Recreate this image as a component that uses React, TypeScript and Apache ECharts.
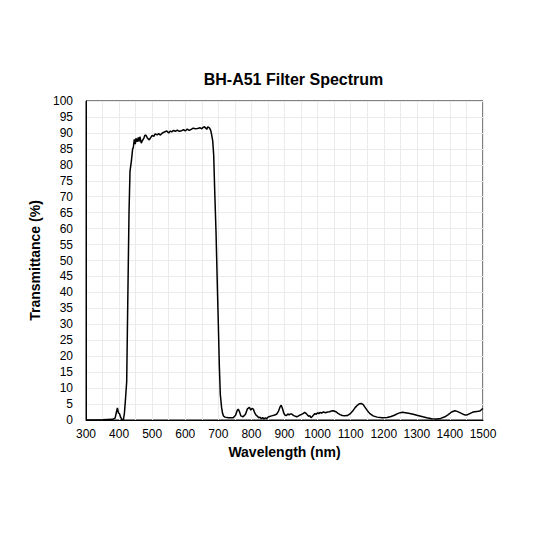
import React, {useRef, useEffect} from 'react';
import * as echarts from 'echarts';

const chartTitle = 'BH-A51 Filter Spectrum';
const xName = 'Wavelength (nm)';
const yName = 'Transmittance (%)';

// wavelength (nm)
const wavelengths = [
    300, 350, 380, 388, 392, 395, 398, 401, 405, 409, 413, 416, 419, 423, 426, 430, 433, 437, 441, 443,
    446, 449, 451, 455, 458, 461, 463, 467, 470, 475, 478, 481, 485, 491, 496, 500, 505, 509, 515, 520,
    524, 530, 537, 544, 550, 555, 559, 565, 570, 576, 582, 589, 595, 600, 606, 612, 618, 624, 630, 637,
    645, 650, 655, 658, 662, 665, 668, 673, 677, 680, 683, 686, 689, 693, 697, 700, 703, 706, 710, 713,
    716, 720, 730, 745, 752, 757, 760, 764, 768, 775, 782, 788, 794, 798, 802, 806, 810, 814, 818, 822,
    826, 830, 834, 838, 842, 846, 850, 855, 861, 868, 876, 882, 887, 890, 894, 898, 902, 906, 910, 914,
    918, 922, 926, 930, 937, 944, 950, 956, 961, 965, 969, 973, 977, 980, 984, 988, 992, 996, 1000, 1004,
    1008, 1012, 1018, 1024, 1030, 1036, 1042, 1048, 1055, 1062, 1068, 1075, 1082, 1090, 1098, 1106, 1113, 1120, 1127, 1132,
    1138, 1144, 1150, 1158, 1168, 1180, 1195, 1210, 1222, 1232, 1242, 1250, 1257, 1265, 1275, 1289, 1300, 1315, 1330, 1345,
    1360, 1372, 1385, 1395, 1405, 1415, 1422, 1430, 1438, 1445, 1452, 1460, 1468, 1475, 1482, 1490, 1496, 1500
];

// transmittance (%) at each wavelength
const transmittance = [
    0, 0.1, 0.2, 0.6, 2.5, 3.8, 2.2, 2.0, 0.8, 0.1, 0.1, 2, 6, 12, 35, 65, 78, 81, 85, 85.4,
    88, 86.5, 88.3, 87.2, 88.6, 87.3, 88.8, 86.8, 87.5, 88.4, 89.3, 89.3, 88.5, 87.8, 88.6, 89.2, 88.9, 89.7, 89.4, 89.8,
    89.3, 89.9, 90.3, 90.6, 90.0, 90.6, 90.3, 90.8, 90.5, 90.9, 90.5, 90.7, 91.0, 90.6, 91.2, 90.8, 91.1, 91.5, 91.3, 91.4,
    91.6, 91.3, 91.8, 91.9, 91.5, 91.1, 91.9, 91.6, 90.8, 89.3, 87.5, 83, 72, 59, 42, 30, 17, 8, 3.8, 2,
    1.2, 0.9, 0.7, 0.7, 1.5, 3.0, 3.4, 2.6, 1.3, 1.0, 1.8, 3.5, 4.0, 3.1, 3.6, 3.4, 2.2, 1.5, 1.2, 0.7,
    0.9, 0.4, 0.8, 0.3, 0.7, 0.4, 0.9, 1.1, 1.3, 1.5, 1.8, 2.8, 4.2, 4.6, 3.5, 2.1, 1.5, 1.4, 1.9, 1.6,
    1.9, 1.9, 1.5, 1.3, 1.0, 1.4, 1.7, 2.0, 2.4, 2.1, 1.6, 1.2, 1.3, 0.7, 1.1, 1.6, 2.0, 1.8, 2.3, 2.0,
    2.4, 2.2, 2.5, 2.3, 2.5, 2.6, 2.8, 2.9, 2.6, 2.1, 1.7, 1.4, 1.3, 1.4, 1.9, 2.8, 3.8, 4.6, 5.1, 5.2,
    4.8, 3.9, 3.0, 2.0, 1.3, 0.9, 0.7, 0.8, 1.1, 1.5, 2.0, 2.3, 2.4, 2.3, 2.1, 1.8, 1.5, 1.1, 0.7, 0.4,
    0.3, 0.5, 1.0, 1.7, 2.5, 2.9, 2.7, 2.3, 1.9, 1.6, 1.6, 2.0, 2.4, 2.6, 2.7, 2.8, 3.3, 3.6
];

const font = '"Liberation Sans", Arial, sans-serif';

const App = () => {
    const ref = useRef<HTMLDivElement>(null);

    useEffect(() => {
        const chart = echarts.init(ref.current as HTMLDivElement, null, {renderer: 'svg'});
        chart.setOption({
            animation: false,
            textStyle: {fontFamily: font},
            title: {
                text: chartTitle,
                left: 288.5,
                top: 66,
                textAlign: 'center',
                textStyle: {fontFamily: font, fontSize: 16, fontWeight: 'bold', color: '#000'}
            },
            grid: {
                left: 86,
                right: 50,
                top: 101,
                bottom: 113,
                show: true,
                borderColor: '#000',
                borderWidth: 1,
                backgroundColor: 'transparent'
            },
            xAxis: {
                type: 'value',
                min: 300,
                max: 1500,
                interval: 100,
                name: xName,
                nameLocation: 'middle',
                nameGap: 25,
                nameTextStyle: {fontFamily: font, fontSize: 14, fontWeight: 'bold', color: '#000'},
                axisLine: {show: true, onZero: false, lineStyle: {color: '#000', width: 1}},
                axisTick: {show: false},
                axisLabel: {
                    fontFamily: font,
                    fontSize: 12,
                    color: '#000',
                    margin: 8,
                    formatter: (v: number) => String(v)
                },
                splitLine: {show: true, lineStyle: {color: '#ebebeb', width: 1}},
                minorTick: {show: false, splitNumber: 2},
                minorSplitLine: {show: true, lineStyle: {color: '#ebebeb', width: 1}}
            },
            yAxis: {
                type: 'value',
                min: 0,
                max: 100,
                interval: 5,
                name: yName,
                nameLocation: 'middle',
                nameGap: 30,
                nameTextStyle: {fontFamily: font, fontSize: 14, fontWeight: 'bold', color: '#000'},
                axisLine: {show: true, lineStyle: {color: '#000', width: 1}},
                axisTick: {show: false},
                axisLabel: {fontFamily: font, fontSize: 12, color: '#000', margin: 13},
                splitLine: {show: true, lineStyle: {color: '#ebebeb', width: 1}}
            },
            series: [
                {
                    type: 'line',
                    data: wavelengths.map((w, i) => [w, transmittance[i]]),
                    showSymbol: false,
                    smooth: false,
                    lineStyle: {color: '#000', width: 1.5},
                    itemStyle: {color: '#000'}
                }
            ]
        });
        return () => chart.dispose();
    }, []);

    return (
        <div
            ref={ref}
            style={{position: 'fixed', left: 0, top: 0, width: 533, height: 533, background: '#fff'}}
        ></div>
    );
};

export default App;
